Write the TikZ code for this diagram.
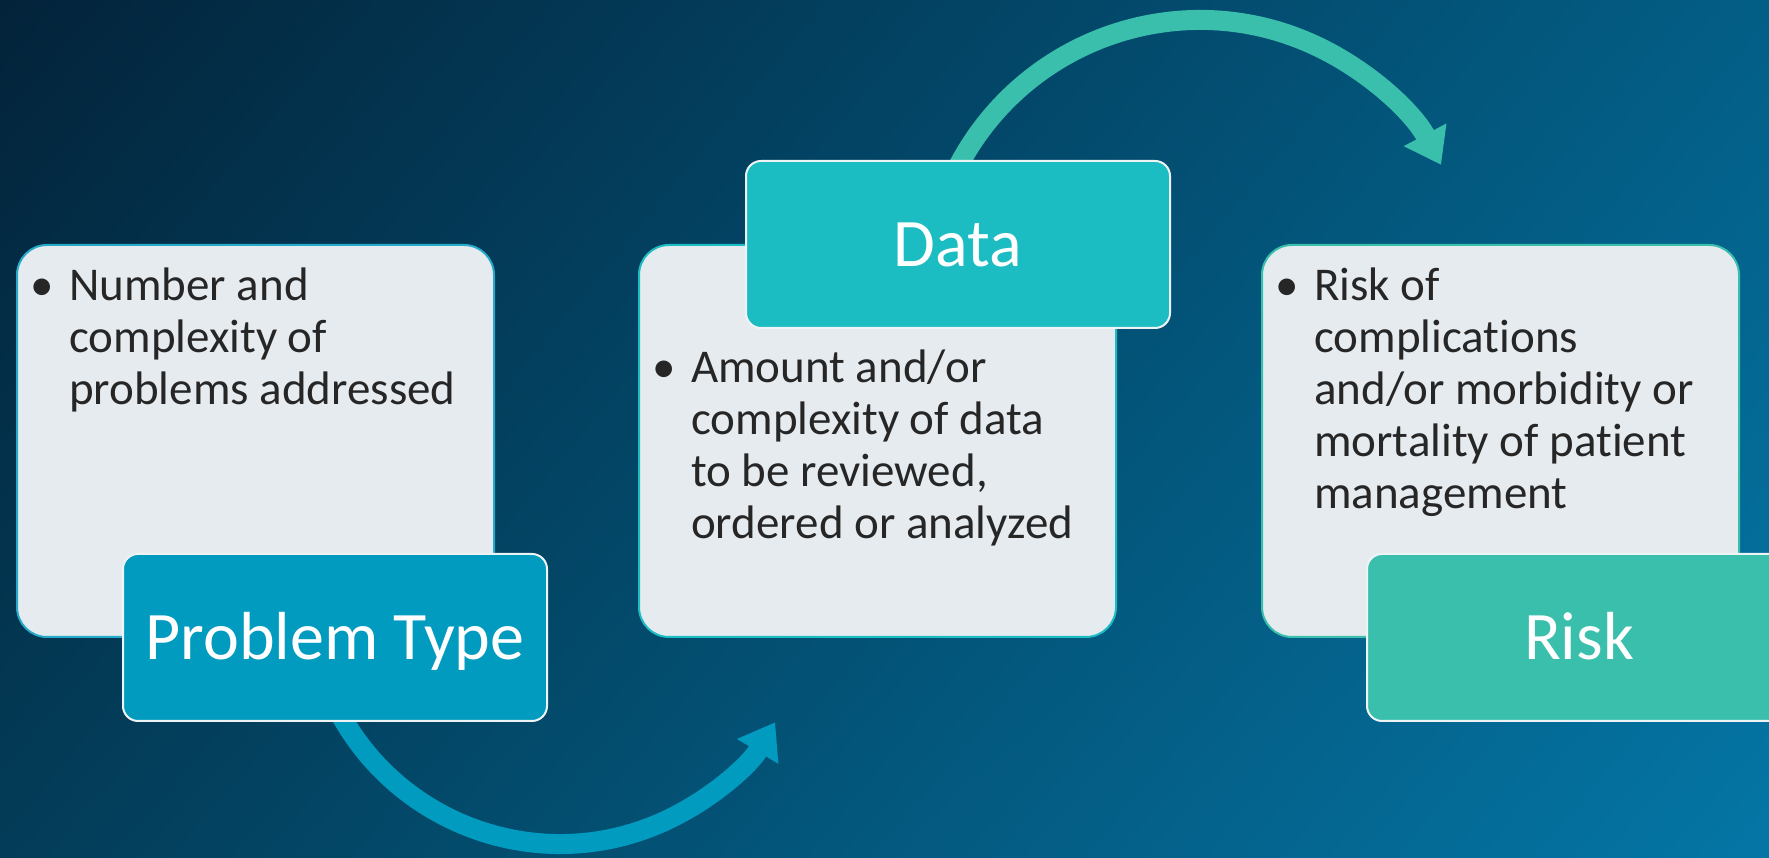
\documentclass[tikz,border=0pt]{standalone}
\usepackage{fontspec}
\setmainfont{Carlito}[Ligatures={NoCommon,NoContextual,NoRare}]
\usetikzlibrary{arrows.meta,shadings}
\definecolor{bgUL}{HTML}{03233A}
\definecolor{bgUR}{HTML}{035E86}
\definecolor{bgLL}{HTML}{033C58}
\definecolor{bgLR}{HTML}{0476A6}
\definecolor{ptblue}{HTML}{019BC0}
\definecolor{datateal}{HTML}{1BBDC3}
\definecolor{riskgreen}{HTML}{3BBFAD}
\definecolor{lightfill}{HTML}{E6EBEF}
\definecolor{bodytext}{HTML}{262626}
\definecolor{headborder}{HTML}{EEF4F6}
\begin{document}
\begin{tikzpicture}[x=1pt,y=1pt,
  lightbox/.style={draw=#1, line width=2pt, fill=lightfill, rounded corners=30pt,
    minimum width=477pt, minimum height=392pt, anchor=south west, inner sep=0pt},
  headbox/.style={draw=headborder, line width=2pt, fill=#1, rounded corners=15pt,
    minimum width=424pt, minimum height=167pt, anchor=south west, inner sep=0pt,
    text=white, font=\fontsize{68pt}{80pt}\selectfont, text height=44pt, text depth=0pt},
  bodytxt/.style={text=bodytext, font=\fontsize{47pt}{52pt}\selectfont,
    anchor=base west, inner sep=0pt},
  flowarrow/.style={draw=#1, line width=20pt, -{Triangle[length=34pt, width=46pt]}}
]
\useasboundingbox (0,0) rectangle (1769,858);
\clip (0,0) rectangle (1769,858);
\shade[upper left=bgUL, upper right=bgUR, lower left=bgLL, lower right=bgLR]
  (0,0) rectangle (1769,858);

% arrows (drawn first, so boxes cover their start)
\coordinate (c1) at (560,265);
\coordinate (c2) at (1200,565);
\draw[flowarrow=ptblue] ([shift={(205:251pt)}]c1) arc[start angle=205, end angle=329, radius=251pt];
\draw[flowarrow=riskgreen] ([shift={(155:273pt)}]c2) arc[start angle=155, end angle=28, radius=273pt];

% light boxes
\node[lightbox=ptblue!85!white] (b1) at (16,220) {};
\node[lightbox=datateal] (b2) at (638,220) {};
\node[lightbox=riskgreen] (b3) at (1261,220) {};

% bullet texts
\node[bodytxt] (t1) at (69,557) {\begin{tabular}[t]{@{}l@{}}\llap{•\hspace{15pt}}Number and\\complexity of\\problems addressed\end{tabular}};
\node[bodytxt] (t2) at (691,475) {\begin{tabular}[t]{@{}l@{}}\llap{•\hspace{15pt}}Amount and/or\\complexity of data\\to be reviewed,\\ordered or analyzed\end{tabular}};
\node[bodytxt] (t3) at (1314,557) {\begin{tabular}[t]{@{}l@{}}\llap{•\hspace{15pt}}Risk of\\complications\\and/or morbidity or\\mortality of patient\\management\end{tabular}};

% header boxes
\node[headbox=ptblue] (pt) at (122,136) {Problem Type};
\node[headbox=datateal] (data) at (745,529) {Data};
\node[headbox=riskgreen] (risk) at (1366,136) {Risk};
\end{tikzpicture}
\end{document}
